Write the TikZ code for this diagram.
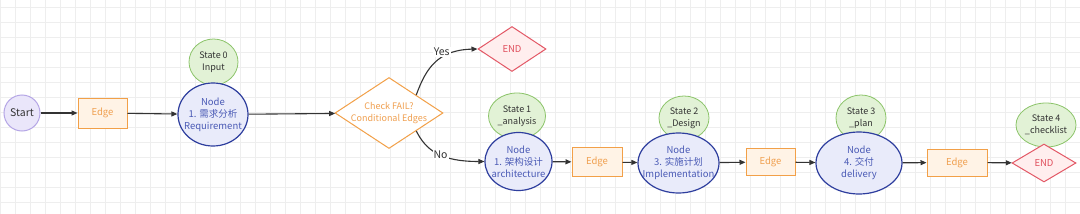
\documentclass[tikz,border=0pt]{standalone}
\usepackage{fontspec}
\setmainfont{Noto Sans CJK SC}
\usetikzlibrary{shapes.geometric,arrows.meta}
\definecolor{gridc}{HTML}{EEEEEE}
\definecolor{startfill}{HTML}{EAE6FA}
\definecolor{startdraw}{HTML}{B5A6E6}
\definecolor{edgefill}{HTML}{FFF3E6}
\definecolor{edgedraw}{HTML}{F2A048}
\definecolor{edgetext}{HTML}{F0A050}
\definecolor{nodefill}{HTML}{E9EBFA}
\definecolor{nodedraw}{HTML}{2E3E9E}
\definecolor{nodetext}{HTML}{4A5AB5}
\definecolor{statefill}{HTML}{E2F2D6}
\definecolor{statedraw}{HTML}{8CC46A}
\definecolor{endfill}{HTML}{FFEEEE}
\definecolor{enddraw}{HTML}{E35866}
\definecolor{endtext}{HTML}{E0505E}
\definecolor{arrowc}{HTML}{333333}
\tikzset{
  startbox/.style={circle,draw=startdraw,fill=startfill,line width=1pt,minimum size=36pt,inner sep=0pt,font=\fontsize{10.5}{12}\selectfont,text=black!80},
  edgebox/.style={rectangle,draw=edgedraw,fill=edgefill,line width=1pt,inner sep=0pt,text=edgetext,font=\fontsize{9.5}{12}\selectfont},
  nodetxt/.style={inner sep=0pt,text=nodetext,align=center,font=\fontsize{9.5}{12}\selectfont},
  nodebox/.style={ellipse,draw=nodedraw,fill=nodefill,line width=1.2pt,inner sep=0pt,label={[nodetxt]center:#1}},
  statetxt/.style={inner sep=0pt,text=black!80,align=center,font=\fontsize{9}{12}\selectfont},
  statebox/.style={ellipse,draw=statedraw,fill=statefill,line width=0.8pt,inner sep=0pt,label={[statetxt]center:#1}},
  condtxt/.style={inner sep=0pt,text=edgetext,align=center,font=\fontsize{9}{12}\selectfont},
  condbox/.style={diamond,draw=edgedraw,fill=white,line width=1pt,inner sep=0pt,label={[condtxt]center:#1}},
  endtxt/.style={inner sep=0pt,text=endtext,font=\fontsize{9.5}{12}\selectfont},
  endbox/.style={diamond,draw=enddraw,fill=endfill,line width=1pt,inner sep=0pt,label={[endtxt]center:#1}},
  conn/.style={draw=arrowc,line width=1.1pt,-{Triangle[length=6pt,width=5pt]}},
  lbl/.style={fill=white,inner sep=1pt,text=black!80,font=\fontsize{10.5}{12}\selectfont}
}
\begin{document}
\begin{tikzpicture}[x=1pt,y=-1pt]
\useasboundingbox (0,0) rectangle (1080,214);
\fill[white] (0,0) rectangle (1080,214);
\foreach \gx in {0,15,...,1080} \draw[gridc,line width=0.5pt] (\gx,0) -- (\gx,214);
\foreach \gy in {7,22,...,214} \draw[gridc,line width=0.5pt] (0,\gy) -- (1080,\gy);

% states (drawn first, nodes overlap them)
\node[statebox={State 0\\Input},minimum width=49pt,minimum height=46pt] (s0) at (213.5,62) {};
\node[statebox={State 1\\\_analysis},minimum width=57pt,minimum height=46pt] (s1) at (517,116) {};
\node[statebox={State 2\\\_Design},minimum width=50pt,minimum height=44pt] (s2) at (684,118) {};
\node[statebox={State 3\\\_plan},minimum width=50pt,minimum height=46pt] (s3) at (861,118) {};
\node[statebox={State 4\\\_checklist},minimum width=60pt,minimum height=44pt] (s4) at (1046,125) {};

\node[startbox] (start) at (22,113) {Start};
\node[edgebox,minimum width=49pt,minimum height=30pt] (e1) at (102.5,113) {Edge};
\node[nodebox={Node\\1. 需求分析\\Requirement},minimum width=70pt,minimum height=63pt] (n1) at (213,114.5) {};
\node[condbox={Check FAIL?\\Conditional Edges},minimum width=108pt,minimum height=71pt] (cond) at (389,113) {};
\node[endbox={END},minimum width=68pt,minimum height=45pt] (end1) at (512,49) {};
\node[nodebox={Node\\1. 架构设计\\architecture},minimum width=67pt,minimum height=58pt] (n2) at (518.5,161.5) {};
\node[edgebox,minimum width=50pt,minimum height=29pt] (e2) at (597,162) {Edge};
\node[nodebox={Node\\3. 实施计划\\Implementation},minimum width=81pt,minimum height=60pt] (n3) at (678.5,163) {};
\node[edgebox,minimum width=49pt,minimum height=27pt] (e3) at (770.5,162) {Edge};
\node[nodebox={Node\\4. 交付\\delivery},minimum width=86pt,minimum height=62pt] (n4) at (859,163) {};
\node[edgebox,minimum width=60pt,minimum height=27pt] (e4) at (957,162.5) {Edge};
\node[endbox={END},minimum width=64pt,minimum height=38pt] (end2) at (1044,163) {};

\draw[conn] (start) -- (e1);
\draw[conn] (e1) -- (n1);
\draw[conn] (n1) -- (cond);
\draw[conn] (cond.north east) .. controls (426,68) and (438,50) .. (end1.west) node[lbl,pos=0.6,yshift=6pt] {Yes};
\draw[conn] (cond.south east) .. controls (426,150) and (440,161.5) .. (n2.west) node[lbl,pos=0.55] {No};
\draw[conn] (n2) -- (e2);
\draw[conn] (e2) -- (n3);
\draw[conn] (n3) -- (e3);
\draw[conn] (e3) -- (n4);
\draw[conn] (n4) -- (e4);
\draw[conn] (e4) -- (end2);
\end{tikzpicture}
\end{document}
